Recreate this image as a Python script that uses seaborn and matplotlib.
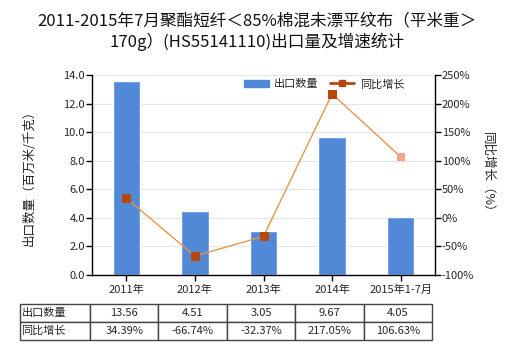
import numpy as np
import pandas as pd
import matplotlib
matplotlib.use("Agg")
import matplotlib.pyplot as plt
import seaborn as sns
from matplotlib.lines import Line2D
from matplotlib.patches import Patch

# Export volume and year-on-year growth
categories = ["2011年", "2012年", "2013年", "2014年", "2015年1-7月"]
export_qty = [13.56, 4.51, 3.05, 9.67, 4.05]
growth_pct = [34.39, -66.74, -32.37, 217.05, 106.63]
qty_labels = ["13.56", "4.51", "3.05", "9.67", "4.05"]
growth_labels = ["34.39%", "-66.74%", "-32.37%", "217.05%", "106.63%"]

sns.set_theme(style="white")
plt.rcParams["font.family"] = ["Noto Sans CJK SC", "DejaVu Sans"]

BAR = "#5289d6"
LINE = "#e8954a"
MARK = "#b8470c"
MARK_LIGHT = "#f2a58a"

fig = plt.figure(figsize=(5.2, 3.5), dpi=100)
ax = fig.add_axes([92 / 520, 75 / 350, 343 / 520, 200 / 350])

df = pd.DataFrame({"cat": categories, "qty": export_qty})
sns.barplot(data=df, x="cat", y="qty", color=BAR, saturation=1, width=0.4, ax=ax)
ax.set_xlim(-0.5, len(categories) - 0.5)
ax.set_ylim(0, 14)
ax.set_yticks(np.arange(0, 14.1, 2))
ax.set_yticklabels([f"{v:.1f}" for v in np.arange(0, 14.1, 2)], fontsize=8)
ax.set_xticks(range(len(categories)))
ax.set_xticklabels(categories, fontsize=8)
ax.set_xlabel("")
ax.set_ylabel("出口数量（百万米/千克）", fontsize=9, color="#222222", labelpad=20)
ax.yaxis.grid(True, color="#e3e6e8", linewidth=0.8)
ax.set_axisbelow(True)
for s in ["top", "right"]:
    ax.spines[s].set_visible(False)
for s in ["left", "bottom"]:
    ax.spines[s].set_color("black")
    ax.spines[s].set_linewidth(1)
ax.tick_params(axis="y", direction="out", length=4, width=1, color="black", left=True, pad=1)
ax.tick_params(axis="x", direction="out", length=4, width=1, color="black", bottom=True, pad=3)

ax2 = ax.twinx()
xpos = np.arange(len(categories))
sns.lineplot(x=xpos, y=growth_pct, ax=ax2, color=LINE, linewidth=1,
             marker="s", markersize=5.5, markerfacecolor=MARK, markeredgecolor=MARK,
             markevery=list(range(len(categories) - 1)), legend=False)
# latest period marker drawn in a lighter tone
ax2.scatter(xpos[-1:], growth_pct[-1:], marker="s", s=28, color=MARK_LIGHT, zorder=3,
            linewidths=0)
ax2.set_ylim(-100, 250)
ax2.set_yticks(np.arange(-100, 251, 50))
ax2.set_yticklabels([f"{int(v)}%" for v in np.arange(-100, 251, 50)], fontsize=8)
ax2.set_ylabel("同比增长（%）", fontsize=9, color="#222222", rotation=270, labelpad=14)
ax2.grid(False)
for s in ["top", "left", "bottom"]:
    ax2.spines[s].set_visible(False)
ax2.spines["right"].set_color("black")
ax2.spines["right"].set_linewidth(1)
ax2.tick_params(axis="y", direction="out", length=4, width=1, color="black", right=True, pad=1)
ax2.set_xlim(-0.5, len(categories) - 0.5)

# Legend
handles = [Patch(color=BAR), Line2D([], [], color=MARK, lw=2, marker="s", markersize=5)]
ax2.legend(handles, ["出口数量", "同比增长"], loc="upper right", bbox_to_anchor=(0.94, 1.03),
           ncol=2, frameon=False, fontsize=8, handlelength=2.2, columnspacing=1.0,
           handletextpad=0.5)

# Data table below the chart
cell_text = [["出口数量"] + qty_labels, ["同比增长"] + growth_labels]
tbl = ax.table(cellText=cell_text, cellLoc="center",
               bbox=[-72 / 343, -65 / 200, 412 / 343, 36 / 200],
               colWidths=[70] + [68.4] * 5)
tbl.auto_set_font_size(False)
tbl.set_fontsize(8)
for (r, c), cell in tbl.get_celld().items():
    cell.set_edgecolor("#444444")
    cell.set_linewidth(1)
    if c == 0:
        cell.get_text().set_ha("left")
        cell.PAD = 0.02

fig.text(0.495, 1 - 32 / 350,
         "2011-2015年7月聚酯短纤＜85%棉混未漂平纹布（平米重＞\n170g）(HS55141110)出口量及增速统计",
         fontsize=12, ha="center", va="center", color="#111111", linespacing=1.2)

fig.savefig("out.png", dpi=100)
